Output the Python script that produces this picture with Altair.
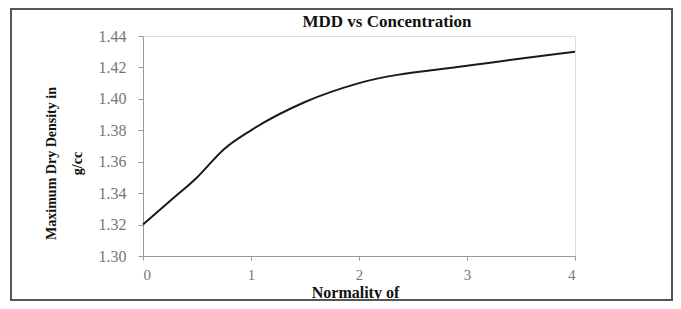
import altair as alt
import pandas as pd

normality = [0, 0.25, 0.5, 0.75, 1, 1.5, 2, 3, 4]
mdd = [1.320, 1.335, 1.350, 1.368, 1.380, 1.398, 1.410, 1.421, 1.430]
x_ticks = [0, 1, 2, 3, 4]
y_ticks = [1.30, 1.32, 1.34, 1.36, 1.38, 1.40, 1.42, 1.44]
chart_title = "MDD vs Concentration"

df = pd.DataFrame({"n": normality, "mdd": mdd})
SERIF = "Liberation Serif"

line = alt.Chart(df).mark_line(color="#1a1a1a", strokeWidth=2, interpolate="monotone").encode(
    x=alt.X("n:Q", scale=alt.Scale(domain=[0, 4], nice=False),
            axis=alt.Axis(values=x_ticks, format="d", title="Normality of",
                          titleFont=SERIF, titleFontSize=16, titleFontWeight="bold",
                          titleColor="#111", titleX=212, titleY=41,
                          titleBaseline="alphabetic",
                          labelFont=SERIF, labelFontSize=15, labelColor="#777",
                          labelPadding=7, tickSize=4, tickColor="#999",
                          domainColor="#999", grid=False)),
    y=alt.Y("mdd:Q", scale=alt.Scale(domain=[1.30, 1.44], nice=False, zero=False),
            axis=alt.Axis(values=y_ticks, format=".2f",
                          title=["Maximum Dry Density in", "g/cc"],
                          titleFont=SERIF, titleFontSize=14, titleFontWeight="bold",
                          titleColor="#111", titleLineHeight=26,
                          titleX=-85, titleY=127, titleAngle=-90, titleAlign="center",
                          titleBaseline="bottom",
                          labelFont=SERIF, labelFontSize=16, labelColor="#777",
                          labelPadding=12, tickSize=5, tickColor="#999",
                          domainColor="#999", grid=False)),
)

border = alt.Chart(alt.Data(values=[{}])).mark_rect(
    fill="transparent", stroke="#555", strokeWidth=2
).encode(
    x=alt.value(-132), x2=alt.value(529), y=alt.value(-27), y2=alt.value(264)
)

title = alt.Chart(alt.Data(values=[{"t": chart_title}])).mark_text(
    font=SERIF, fontSize=17, fontWeight="bold", color="#111",
    align="center", baseline="middle"
).encode(text="t:N", x=alt.value(244), y=alt.value(-14))

chart = alt.layer(border, line, title).properties(
    width=432, height=220,
    padding={"left": 135, "top": 28, "right": 98, "bottom": 45},
    autosize=alt.AutoSizeParams(type="none"),
).configure_view(stroke=None).configure(background="white")

chart.save("out.html", embed_options={"renderer": "svg", "actions": False})
